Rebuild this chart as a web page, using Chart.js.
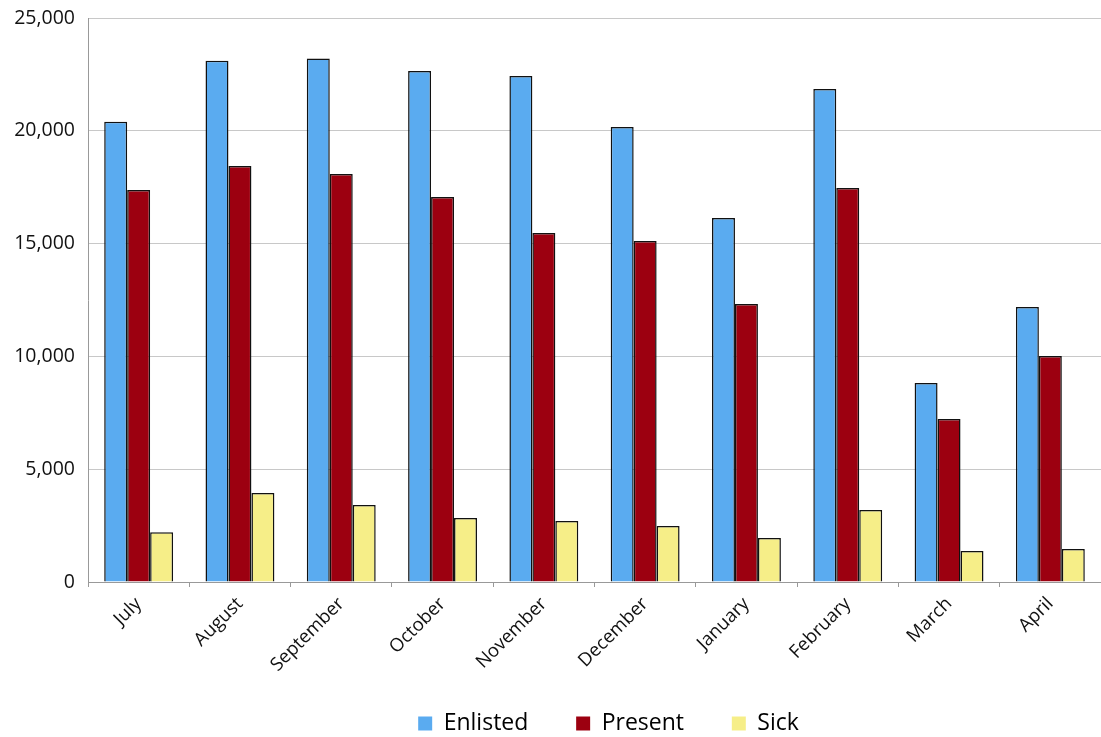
<!DOCTYPE html>
<html>
<head>
<meta charset="utf-8">
<script src="https://cdn.jsdelivr.net/npm/chart.js@4.4.1/dist/chart.umd.min.js"></script>
<style>
  html, body { margin: 0; padding: 0; background: #fff; }
  #wrap { width: 1101px; height: 737px; }
</style>
</head>
<body>
<div id="wrap"><canvas id="grafico" width="1101" height="737"></canvas></div>
<script>
const meses = ["July", "August", "September", "October", "November", "December", "January", "February", "March", "April"];
const enlisted = [20400, 23100, 23200, 22650, 22430, 20170, 16130, 21850, 8820, 12190];
const present = [17380, 18440, 18090, 17070, 15470, 15110, 12320, 17460, 7230, 10020];
const sick = [2200, 3950, 3410, 2840, 2700, 2480, 1950, 3190, 1370, 1460];

const fuente = "'Open Sans', 'Noto Sans', sans-serif";

// mueve la leyenda a la derecha y abajo, como en el original
const moverLeyenda = {
    id: "moverLeyenda",
    afterLayout(chart) {
        const l = chart.legend;
        if (!l) return;
        l.left += 58;
        l.right += 58;
        l.top += 8;
        l.bottom += 8;
    }
};

const ctx = document.getElementById("grafico").getContext("2d");
new Chart(ctx, {
    type: "bar",
    data: {
        labels: meses,
        datasets: [
            { label: "Enlisted", data: enlisted, backgroundColor: "#5aabf0" },
            { label: "Present", data: present, backgroundColor: "#9c0010" },
            { label: "Sick", data: sick, backgroundColor: "#f6ee88" }
        ].map(d => Object.assign(d, {
            borderColor: "#111",
            borderWidth: 1.5,
            borderSkipped: "bottom",
            categoryPercentage: 0.68,
            barPercentage: 1.0
        }))
    },
    plugins: [moverLeyenda],
    options: {
        responsive: false,
        animation: false,
        devicePixelRatio: 1,
        layout: { padding: 0 },
        plugins: {
            tooltip: { enabled: false },
            legend: {
                position: "bottom",
                labels: {
                    font: { family: fuente, size: 23 },
                    color: "#111",
                    boxWidth: 14,
                    boxHeight: 14,
                    padding: 6,
                    generateLabels(chart) {
                        return chart.data.datasets.map((d, i) => ({
                            text: i < 2 ? d.label + "       " : d.label,
                            fillStyle: d.backgroundColor,
                            strokeStyle: d.backgroundColor,
                            lineWidth: 0,
                            datasetIndex: i
                        }));
                    }
                }
            }
        },
        scales: {
            x: {
                offset: true,
                afterFit(scale) { scale.height = 116; },
                grid: {
                    offset: true,
                    drawOnChartArea: false,
                    drawTicks: true,
                    tickLength: 5,
                    color: "#999"
                },
                border: { color: "#999" },
                ticks: {
                    font: { family: fuente, size: 18.5 },
                    color: "#111",
                    maxRotation: 45,
                    minRotation: 45,
                    padding: 6
                }
            },
            y: {
                min: 0,
                max: 25000,
                afterFit(scale) {
                    scale.width = 88;
                    scale.paddingTop = 18;
                },
                grid: { color: "#c8c8c8", drawTicks: false },
                border: { color: "#999" },
                ticks: {
                    stepSize: 5000,
                    padding: 13,
                    font: { family: fuente, size: 19.5 },
                    color: "#111",
                    callback: v => v.toLocaleString("en-US")
                }
            }
        }
    }
});
</script>
</body>
</html>
